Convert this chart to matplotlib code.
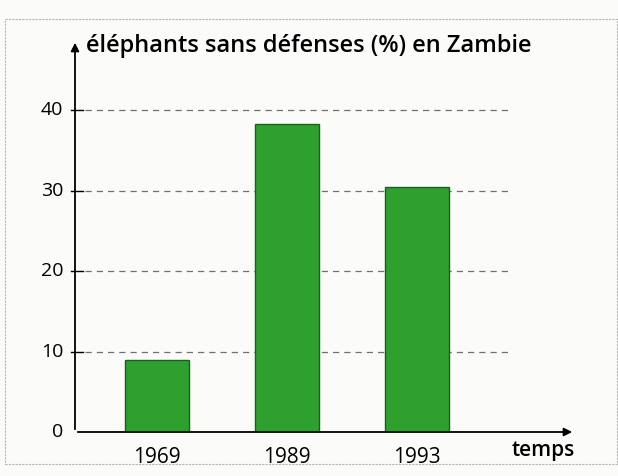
import matplotlib.pyplot as plt
from matplotlib.patches import Rectangle

# donnees
annees = ['1969', '1989', '1993']
pourcentages = [9, 38.3, 30.4]
graduations = [0, 10, 20, 30, 40]

plt.rcParams['font.family'] = ['Open Sans', 'DejaVu Sans']

fig = plt.figure(figsize=(6.18, 4.76), dpi=100)
fig.patch.set_facecolor('#fbfbfa')
# cadre pointille autour de la figure
fig.add_artist(Rectangle((0.008, 0.025), 0.99, 0.935, transform=fig.transFigure,
                         fill=False, ls=(0, (2, 1)), lw=0.8, ec='#b5b5b5'))

ax = fig.add_axes([75/618, 44/476, 500/618, 392/476])
ax.set_facecolor('none')
index = list(range(len(annees)))
ax.set_xlim(-0.63, 3.215)
ax.set_ylim(0, 48.7)

# lignes pointillees horizontales
ax.hlines(graduations[1:], -0.55, 2.72, colors='#707070', linestyles=(0, (5, 4)), lw=0.9, zorder=1)
ax.bar(index, pourcentages, width=0.49, color='#2ea02e', edgecolor='#1d5e1d', lw=1, zorder=2)

for s in ax.spines.values():
    s.set_visible(False)
ax.set_xticks([])
ax.set_yticks([])

# axes avec fleches
ax.annotate('', xy=(0, 1), xytext=(0, 0), xycoords='axes fraction',
            arrowprops=dict(arrowstyle='-|>', color='black', lw=1.3, mutation_scale=12))
ax.annotate('', xy=(1, 0), xytext=(0, 0), xycoords='axes fraction',
            arrowprops=dict(arrowstyle='-|>', color='black', lw=1.3, mutation_scale=12))

for g in graduations:
    ax.text(-0.72, g, str(g), ha='right', va='center', fontsize=14, clip_on=False)
    if g > 0:
        ax.plot([-0.66, -0.57], [g, g], color='black', lw=1, clip_on=False)

for i, a in zip(index, annees):
    ax.text(i, -3.2, a, ha='center', va='center', fontsize=15)

ax.text(1.0, -0.02, 'temps', transform=ax.transAxes, ha='right', va='top',
        fontsize=15, fontweight='semibold')
ax.text(0.022, 0.985, 'éléphants sans défenses (%) en Zambie', transform=ax.transAxes,
        ha='left', va='center', fontsize=17, fontweight='semibold')

plt.savefig('out.png', dpi=100, facecolor=fig.get_facecolor())
